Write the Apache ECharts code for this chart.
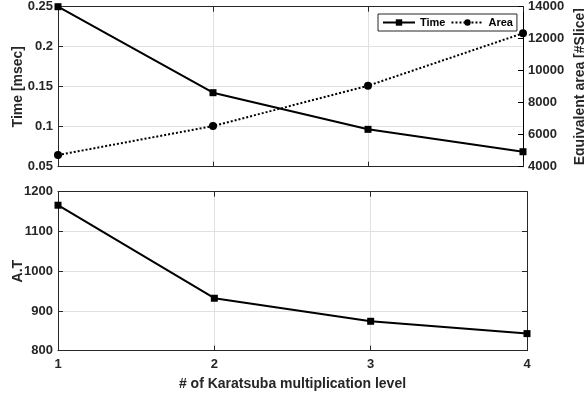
<!DOCTYPE html>
<html><head><meta charset="utf-8">
<script src="https://cdn.jsdelivr.net/npm/echarts@6/dist/echarts.min.js"></script>
<style>html,body{margin:0;padding:0;background:#fff}#c{width:584px;height:396px}</style>
</head><body><div id="c"></div>
<script>
var levels = [1, 2, 3, 4];
var timeMs = [0.25, 0.1425, 0.0967, 0.0687];
var areaSlice = [4730, 6540, 9060, 12340];
var atValues = [1166, 932, 874, 843];

var FONT = '"Liberation Sans", Arial, sans-serif';
var AX = '#262626';
var GRID = '#e0e0e0';
function pairs(xs, ys){ return xs.map(function(x,i){return [x, ys[i]];}); }
function plain(v){ return String(v); }
var lab = {color: AX, fontFamily: FONT, fontWeight: 'bold', fontSize: 13, formatter: plain};
var nameStyle = {color: AX, fontFamily: FONT, fontWeight: 'bold', fontSize: 14};
var tick = {show: true, inside: true, length: 5, lineStyle: {color: AX}};

var chart = echarts.init(document.getElementById('c'));
chart.setOption({
  animation: false,
  backgroundColor: '#fff',
  grid: [
    {left: 58, top: 6.7, width: 465, height: 160, outerBoundsMode: 'none', containLabel: false},
    {left: 58, top: 191.7, width: 469, height: 159, outerBoundsMode: 'none', containLabel: false}
  ],
  legend: {
    left: 378, top: 14, itemGap: 5, itemWidth: 32, itemHeight: 8,
    padding: [3, 4, 3, 4],
    borderColor: AX, borderWidth: 1, backgroundColor: '#fff', borderRadius: 0,
    textStyle: {color: '#000', fontFamily: FONT, fontWeight: 'bold', fontSize: 11},
    data: ['Time', 'Area']
  },
  xAxis: [
    {gridIndex: 0, type: 'value', min: 1, max: 4, interval: 1,
     axisLine: {lineStyle: {color: AX}}, axisTick: tick,
     axisLabel: {show: false}, splitLine: {show: true, lineStyle: {color: GRID}}},
    {gridIndex: 0, type: 'value', position: 'top', min: 1, max: 4, interval: 1,
     axisLine: {lineStyle: {color: AX}}, axisTick: tick,
     axisLabel: {show: false}, splitLine: {show: false}},
    {gridIndex: 1, type: 'value', min: 1, max: 4, interval: 1,
     name: '# of Karatsuba multiplication level', nameLocation: 'middle', nameGap: 26, nameMoveOverlap: false, nameTextStyle: nameStyle,
     axisLine: {lineStyle: {color: AX}}, axisTick: tick,
     axisLabel: Object.assign({margin: 7}, lab), splitLine: {show: true, lineStyle: {color: GRID}}},
    {gridIndex: 1, type: 'value', position: 'top', min: 1, max: 4, interval: 1,
     axisLine: {lineStyle: {color: AX}}, axisTick: tick,
     axisLabel: {show: false}, splitLine: {show: false}}
  ],
  yAxis: [
    {gridIndex: 0, type: 'value', position: 'left', min: 0.05, max: 0.25, interval: 0.05,
     name: 'Time [msec]', nameLocation: 'middle', nameGap: 33, nameMoveOverlap: false, nameTextStyle: nameStyle,
     axisLine: {show: true, lineStyle: {color: AX}}, axisTick: tick,
     axisLabel: Object.assign({margin: 5}, lab), splitLine: {show: true, lineStyle: {color: GRID}}},
    {gridIndex: 0, type: 'value', position: 'right', min: 4000, max: 14000, interval: 2000,
     name: 'Equivalent area [#Slice]', nameLocation: 'middle', nameGap: 50, nameMoveOverlap: false, nameTextStyle: nameStyle,
     axisLine: {show: true, lineStyle: {color: '#000'}}, axisTick: {show: true, inside: true, length: 5, lineStyle: {color: '#000'}},
     axisLabel: Object.assign({margin: 5}, lab), splitLine: {show: false}},
    {gridIndex: 1, type: 'value', position: 'left', min: 800, max: 1200, interval: 100,
     name: 'A.T', nameLocation: 'middle', nameGap: 33, nameMoveOverlap: false, nameTextStyle: nameStyle,
     axisLine: {show: true, lineStyle: {color: AX}}, axisTick: tick,
     axisLabel: Object.assign({margin: 5}, lab), splitLine: {show: true, lineStyle: {color: GRID}}},
    {gridIndex: 1, type: 'value', position: 'right', min: 800, max: 1200, interval: 100,
     axisLine: {show: true, lineStyle: {color: AX}}, axisTick: tick,
     axisLabel: {show: false}, splitLine: {show: false}}
  ],
  series: [
    {name: 'Time', type: 'line', xAxisIndex: 0, yAxisIndex: 0, data: pairs(levels, timeMs),
     symbol: 'rect', symbolSize: 7, lineStyle: {color: '#000', width: 2}, itemStyle: {color: '#000'}},
    {name: 'Area', type: 'line', xAxisIndex: 0, yAxisIndex: 1, data: pairs(levels, areaSlice),
     symbol: 'circle', symbolSize: 8, lineStyle: {color: '#000', width: 2, type: 'dotted'}, itemStyle: {color: '#000'}},
    {name: 'A.T', type: 'line', xAxisIndex: 2, yAxisIndex: 2, data: pairs(levels, atValues),
     symbol: 'rect', symbolSize: 7, lineStyle: {color: '#000', width: 2}, itemStyle: {color: '#000'}}
  ]
});
</script></body></html>
